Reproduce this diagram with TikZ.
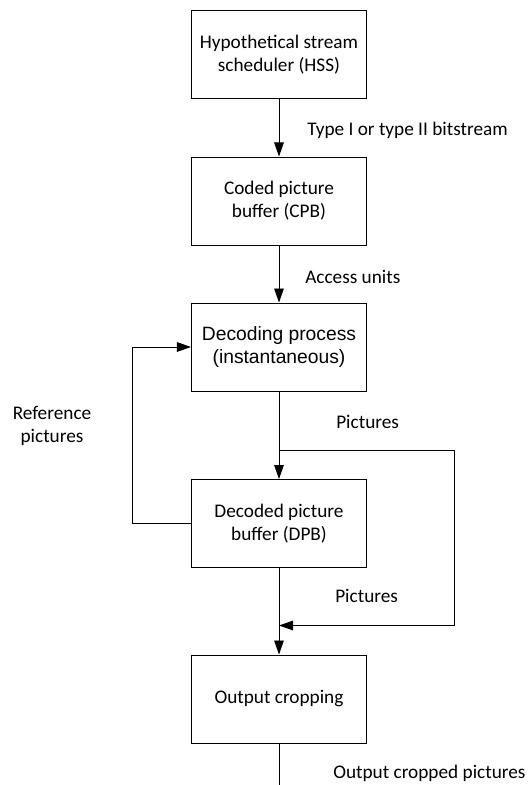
\documentclass[tikz,border=0pt]{standalone}
\usepackage{fontspec}
\setmainfont{Carlito}
\newfontfamily\arialfont{Liberation Sans}
\usetikzlibrary{arrows.meta}

\tikzset{
  block/.style={draw, line width=0.7pt, minimum width=4.375cm, minimum height=2.2cm,
    align=center, font=\fontsize{13.7}{16.4}\selectfont},
  lbl/.style={font=\fontsize{13.7}{16.4}\selectfont, inner sep=0pt},
  flow/.style={line width=0.7pt, -{Triangle[length=3.5mm,width=2.4mm]}},
  wire/.style={line width=0.7pt}
}

\begin{document}
\begin{tikzpicture}[x=0.025cm,y=-0.025cm]
				\useasboundingbox (0,0) rectangle (528,785);
				% boxes
				\node[block] (hss) at (279,54.5) {Hypothetical stream\\scheduler (HSS)};
				\node[block] (cpb) at (279,201) {Coded picture\\buffer (CPB)};
				\node[block, font=\arialfont\fontsize{13.7}{17}\selectfont] (dec) at (279,347) {Decoding process\\(instantaneous)};
				\node[block] (dpb) at (279,523.5) {Decoded picture\\buffer (DPB)};
				\node[block] (crop) at (279,699) {Output cropping};
				\coordinate (split) at (279,450);
				\coordinate (merge) at (279,625.5);
				\coordinate (out) at (279,785);
				% connectors
				\draw[flow] (hss) -- (cpb);
				\draw[flow] (cpb) -- (dec);
				\draw[flow] (dec) -- (dpb);
				\draw[flow] (dpb) -- (crop);
				\draw[wire] (crop) -- (out);
				\draw[flow] (dpb.west) -- (132.7,523.5) -- (132.7,347) -- (dec.west);
				\draw[flow] (split) -- (454.3,450) -- (454.3,625.5) -- (merge);
				% labels
				\node[lbl, anchor=west] (l1) at (307,130) {Type I or type II bitstream};
				\node[lbl, anchor=west] (l2) at (305,277) {Access units};
				\node[lbl, anchor=west] (l3) at (336,422) {Pictures};
				\node[lbl, anchor=west] (l4) at (335,596) {Pictures};
				\node[lbl, anchor=west] (l5) at (333,773) {Output cropped pictures};
				\node[lbl, align=center] (l6) at (52,426) {Reference\\pictures};
			\end{tikzpicture}
\end{document}
